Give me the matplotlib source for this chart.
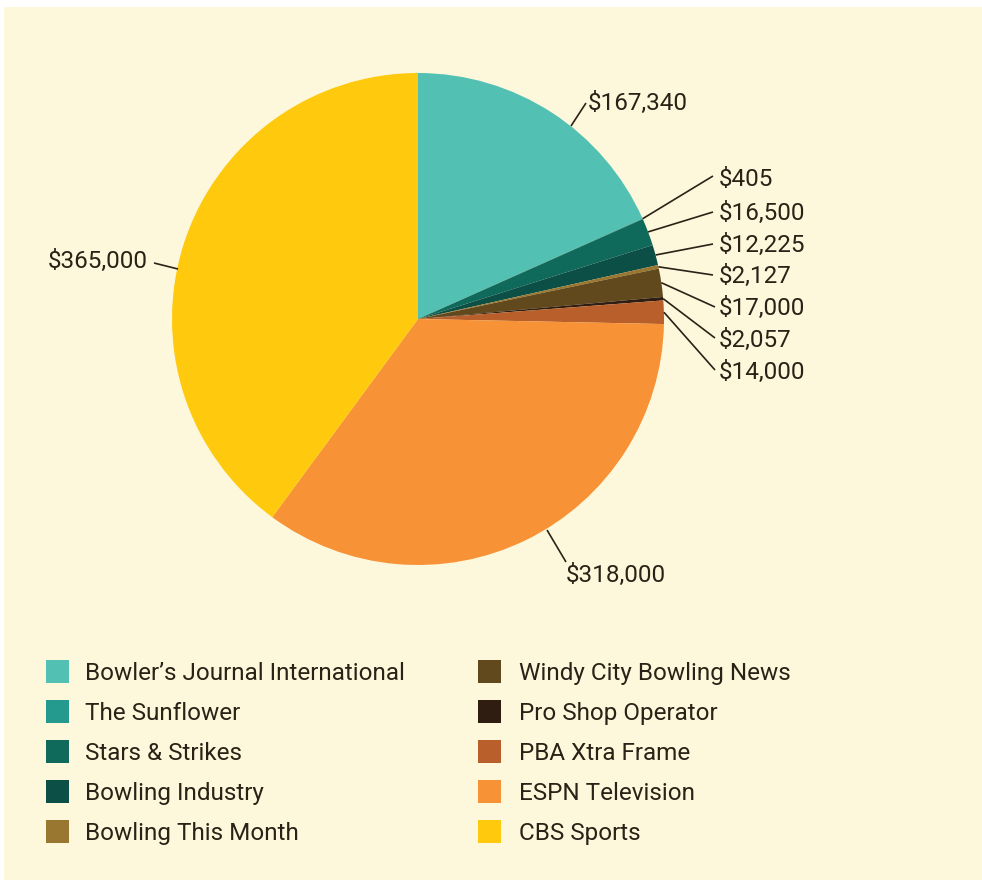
import matplotlib
matplotlib.use('Agg')
import matplotlib.pyplot as plt
import numpy as np
from matplotlib.patches import Rectangle

# ---- data ----
categories = ["Bowler\u2019s Journal International", "The Sunflower", "Stars & Strikes",
              "Bowling Industry", "Bowling This Month", "Windy City Bowling News",
              "Pro Shop Operator", "PBA Xtra Frame", "ESPN Television", "CBS Sports"]
values = [167340, 405, 16500, 12225, 2127, 17000, 2057, 14000, 318000, 365000]
value_labels = ["$167,340", "$405", "$16,500", "$12,225", "$2,127", "$17,000",
                "$2,057", "$14,000", "$318,000", "$365,000"]
colors = ["#52C1B4", "#239A8D", "#0F6A5C", "#0B4F46", "#9A7730", "#62481D",
          "#2E1D10", "#B95F2B", "#F79236", "#FFC90E"]

# ---- layout (pixels) ----
W, H = 982, 880
BG = "#FDF8DB"
TXT = "#2B2116"
FONT = "Roboto"
FS = 17.5
DY = 2  # vertical text nudge (px)
cx, cy, R = 418, 319, 246

# label text anchor (x, y center) and alignment
text_pos = [(588, 101, 'left'), (719, 178, 'left'), (719, 211, 'left'), (719, 243, 'left'),
            (719, 274, 'left'), (719, 306, 'left'), (719, 338, 'left'), (719, 370, 'left'),
            (566, 573, 'left'), (148, 259, 'right')]
line_end = [(586, 103), (713, 176), (713, 212), (713, 244), (713, 275), (715, 307),
            (715, 338), (715, 370), (566, 562), (154, 263)]
line_start = [(571, 126), None, None, None, None, None, None, None, (547, 530), (178, 269)]

fig = plt.figure(figsize=(W / 100, H / 100), dpi=100)
fig.patch.set_facecolor('white')
fig.patches.append(Rectangle((4 / W, 0), 1 - 4 / W, 1 - 7 / H, transform=fig.transFigure,
                             facecolor=BG, edgecolor='none', zorder=-10))

ax = fig.add_axes([(cx - R) / W, (H - cy - R) / H, 2 * R / W, 2 * R / H])
ax.set_zorder(1)
ax.set_facecolor('none')
wedges, _ = ax.pie(values, colors=colors, startangle=90, counterclock=False, radius=1,
                   wedgeprops=dict(linewidth=0))
ax.set_xlim(-1, 1)
ax.set_ylim(-1, 1)
ax.set_aspect('equal')
ax.axis('off')


def to_data(px, py):
    return (px - cx) / R, (cy - py) / R


for i, w in enumerate(wedges):
    if line_start[i] is None:
        mid = np.deg2rad((w.theta1 + w.theta2) / 2)
        sx, sy = np.cos(mid), np.sin(mid)
    else:
        sx, sy = to_data(*line_start[i])
    ex, ey = to_data(*line_end[i])
    ax.plot([sx, ex], [sy, ey], color=TXT, lw=1.2, clip_on=False, solid_capstyle='butt')
    tx, ty, ha = text_pos[i]
    dx, dy = to_data(tx, ty + DY)
    ax.text(dx, dy, value_labels[i], ha=ha, va='center', fontsize=FS, color=TXT,
            family=FONT, clip_on=False)

# ---- legend ----
for i, (cat, col) in enumerate(zip(categories, colors)):
    c, r = divmod(i, 5)
    sx = 46 + c * 432
    syc = 671 + r * 40
    fig.patches.append(Rectangle((sx / W, (H - syc - 11.5) / H), 23 / W, 23 / H,
                                 transform=fig.transFigure, facecolor=col,
                                 edgecolor='none', zorder=2))
    fig.text((85 + c * 434) / W, (H - syc - DY) / H, cat, ha='left', va='center',
             fontsize=FS, color=TXT, family=FONT)

fig.savefig('out.png', dpi=100, facecolor=fig.get_facecolor())
